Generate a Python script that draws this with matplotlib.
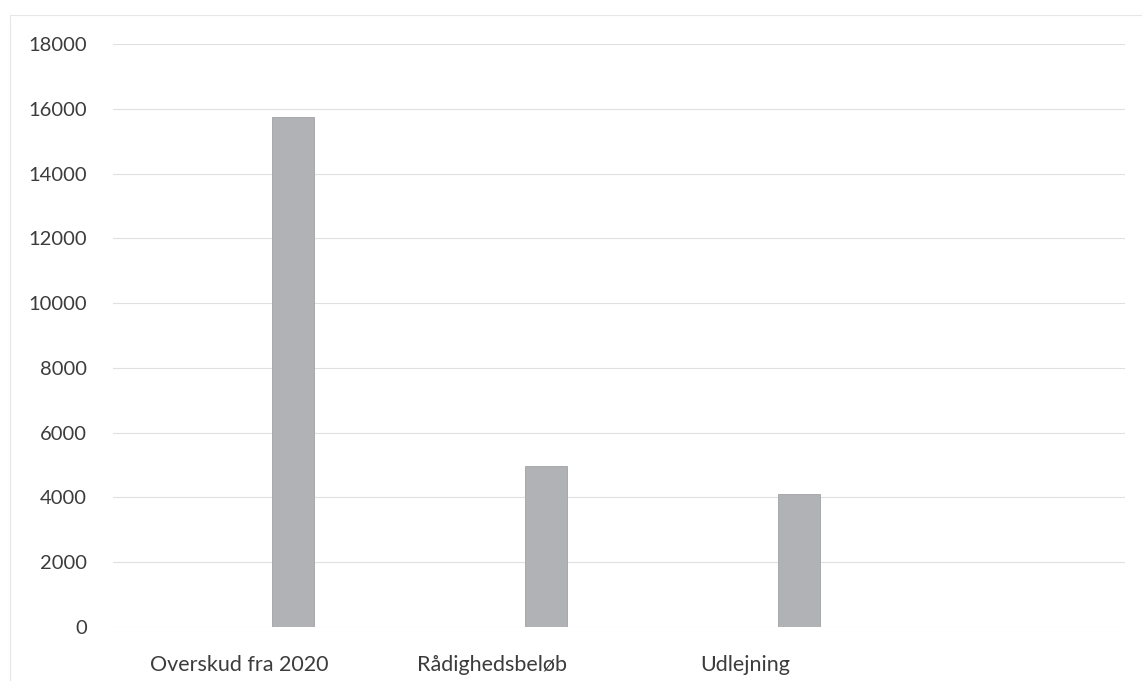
import numpy as np
import matplotlib.pyplot as plt
from matplotlib.patches import Rectangle

categories = ["Overskud fra 2020", "Rådighedsbeløb", "Udlejning", ""]
values = [15750, 4980, 4120, 0]
yticks = np.arange(0, 18001, 2000)

plt.rcParams["font.family"] = ["Lato", "DejaVu Sans"]

fig = plt.figure(figsize=(11.42, 6.81), dpi=100)
ax = fig.add_axes([0.099, 0.0793, 0.886, 0.856])

x = np.arange(len(categories))
ax.bar(x + 0.21, values, width=0.166, color="#b0b2b5", edgecolor="#a0a2a6",
       linewidth=0.6, zorder=3)

ax.set_xlim(-0.5, len(categories) - 0.5)
ax.set_ylim(0, 18000)
ax.set_yticks(yticks)
ax.set_xticks(x)
ax.set_xticklabels(categories)
ax.grid(axis="y", color="#e0e0e0", linewidth=0.8, zorder=0)
for s in ax.spines.values():
    s.set_visible(False)
ax.tick_params(axis="both", length=0, colors="#3c3c3c")
ax.tick_params(axis="y", pad=19, labelsize=14.5)
ax.tick_params(axis="x", pad=20, labelsize=15.5)

# faint outline of the chart border from the scan
fig.patches.append(Rectangle((10 / 1142, -0.1), 1.2, 1.1 - 15 / 681,
                             transform=fig.transFigure, fill=False,
                             edgecolor="#e6e6e6", linewidth=0.8))

fig.savefig("out.png", dpi=100)
